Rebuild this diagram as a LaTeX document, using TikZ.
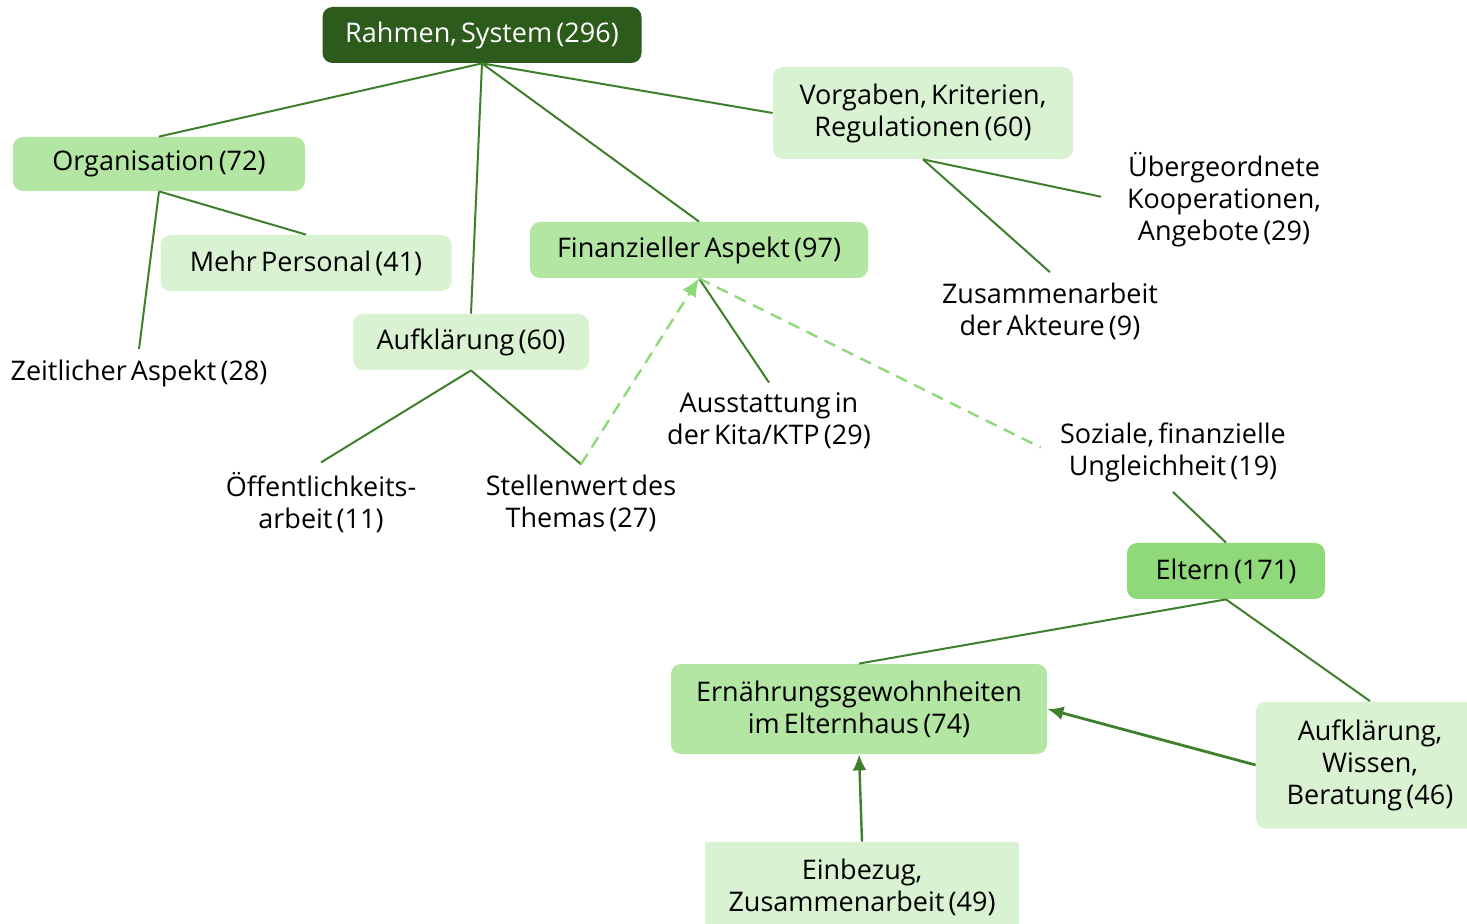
\documentclass[tikz,border=0pt]{standalone}
\usepackage{fontspec}
\setmainfont[WordSpace=0.6]{Open Sans}
\usetikzlibrary{arrows.meta}
\definecolor{darkbox}{HTML}{2C5B1C}
\definecolor{midbox}{HTML}{B3E5A3}
\definecolor{lightbox}{HTML}{D9F2D2}
\definecolor{brightbox}{HTML}{8FD97B}
\definecolor{linegreen}{HTML}{3E7F2C}
\definecolor{dashgreen}{HTML}{8FD97B}
\tikzset{
  txt/.style={align=center, font=\fontsize{13.5}{16}\selectfont},
  box/.style={txt, rounded corners=5pt, inner sep=0pt},
  label/.style={txt, inner sep=5pt},
  link/.style={draw=linegreen, line width=1pt},
  dlink/.style={draw=dashgreen, line width=1.2pt, dash pattern=on 6pt off 4pt},
  arr/.style={draw=linegreen, line width=1.4pt, -{Latex[length=8pt,width=7pt]}}
}
\begin{document}
\begin{tikzpicture}[x=0.5pt,y=-0.5pt]
        \useasboundingbox (0,0) rectangle (1467,924);
        \node [box, fill=darkbox, text=white, minimum width=159.5pt, minimum height=28pt] (root) at (482,35) {Rahmen, System (296)};
        \node [box, fill=midbox, minimum width=146pt, minimum height=27pt] (org) at (159,164) {Organisation (72)};
        \node [box, fill=lightbox, minimum width=145.5pt, minimum height=28pt] (pers) at (306,263) {Mehr Personal (41)};
        \node [label] (zeit) at (139,373) {Zeitlicher Aspekt (28)};
        \node [box, fill=lightbox, minimum width=118pt, minimum height=28pt] (aufk) at (471,342) {Aufklärung (60)};
        \node [label] (oeff) at (321,503) {Öffentlichkeits-\\arbeit (11)};
        \node [label] (stell) at (581,503) {Stellenwert des\\Themas (27)};
        \node [box, fill=midbox, minimum width=169pt, minimum height=28pt] (fin) at (699,250) {Finanzieller Aspekt (97)};
        \node [label] (ausst) at (769,421) {Ausstattung in\\der Kita/KTP (29)};
        \node [box, fill=lightbox, minimum width=150pt, minimum height=46pt] (vorg) at (923,113) {Vorgaben, Kriterien,\\Regulationen (60)};
        \node [label] (ueber) at (1224,200) {Übergeordnete\\Kooperationen,\\Angebote (29)};
        \node [label] (zus) at (1050,311) {Zusammenarbeit\\der Akteure (9)};
        \node [label] (soz) at (1173,452) {Soziale, finanzielle\\Ungleichheit (19)};
        \node [box, fill=brightbox, minimum width=99pt, minimum height=28pt] (eltern) at (1226,571) {Eltern (171)};
        \node [box, fill=midbox, minimum width=188pt, minimum height=45pt] (ern) at (859,709) {Ernährungsgewohnheiten\\im Elternhaus (74)};
        \node [box, fill=lightbox, minimum width=114pt, minimum height=63.5pt] (wiss) at (1370,765) {Aufklärung,\\Wissen,\\Beratung (46)};
        \node [box, rounded corners=0pt, fill=lightbox, minimum width=157pt, minimum height=45pt] (einb) at (862,887) {Einbezug,\\Zusammenarbeit (49)};
        % tree links
        \draw [link] (root.south) -- (org.north);
        \draw [link] (root.south) -- (aufk.north);
        \draw [link] (root.south) -- (fin.north);
        \draw [link] (root.south) -- (vorg.west);
        \draw [link] (org.south) -- (pers.north);
        \draw [link] (org.south) -- (zeit.north);
        \draw [link] (aufk.south) -- (oeff.north);
        \draw [link] (aufk.south) -- (stell.north);
        \draw [link] (fin.south) -- (ausst.north);
        \draw [link] (vorg.south) -- (zus.north);
        \draw [link, shorten >=8pt] (vorg.south) -- (ueber.west);
        \draw [link] (soz.south) -- (eltern.north);
        \draw [link] (eltern.south) -- (ern.north);
        \draw [link] (eltern.south) -- (wiss.north);
        % dashed links
        \draw [dlink, -{Latex[length=9pt,width=8pt]}, fill=dashgreen] (stell.north) -- (fin.south);
        \draw [dlink, shorten >=5pt] (fin.south) -- (soz.west);
        % arrows
        \draw [arr] (wiss.west) -- (ern.east);
        \draw [arr, line width=1.2pt] (einb.north) -- (ern.south);
\end{tikzpicture}
\end{document}
